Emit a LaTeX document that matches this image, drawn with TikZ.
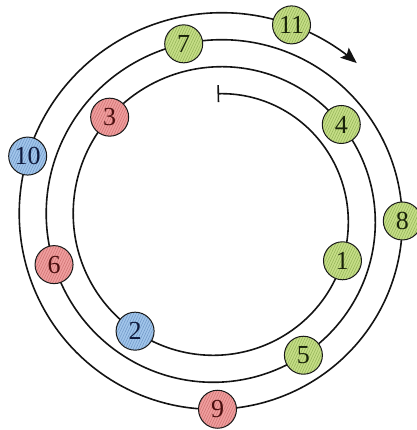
\documentclass[tikz,border=0pt]{standalone}
\usepackage{fontspec}
\setmainfont{Liberation Serif}
\usetikzlibrary{arrows.meta,patterns.meta}
\definecolor{gfill}{RGB}{198,222,135}
\definecolor{gline}{RGB}{145,178,85}
\definecolor{gtext}{RGB}{25,35,10}
\definecolor{rfill}{RGB}{240,158,158}
\definecolor{rline}{RGB}{205,112,112}
\definecolor{rtext}{RGB}{75,15,15}
\definecolor{bfill}{RGB}{162,198,235}
\definecolor{bline}{RGB}{110,150,198}
\definecolor{btext}{RGB}{15,25,60}
\tikzset{
  ball/.style={circle, draw=black!90, line width=1pt, minimum size=38pt, inner sep=0pt,
    font=\fontsize{26}{26}\selectfont},
  gball/.style={ball, preaction={fill=gfill}, pattern={Lines[angle=65,distance=2.4pt,line width=0.5pt]}, pattern color=gline, text=gtext},
  rball/.style={ball, preaction={fill=rfill}, pattern={Lines[angle=65,distance=2.4pt,line width=0.5pt]}, pattern color=rline, text=rtext},
  bball/.style={ball, preaction={fill=bfill}, pattern={Lines[angle=65,distance=2.4pt,line width=0.5pt]}, pattern color=bline, text=btext},
  spiralline/.style={line width=1.6pt, black!92}
}
\newcommand{\spr}[1]{({90-(#1)}:{124+0.075*(#1)})}
\begin{document}
\begin{tikzpicture}[x=1pt,y=1pt]
\useasboundingbox (0,0) rectangle (416,-430);
\begin{scope}[shift={(217.5,-217.75)}]
  \draw[spiralline, {Bar[width=17pt,line width=1.6pt]}-{Stealth[length=16pt,width=13pt,inset=3pt]}]
    plot[domain=0:1122, samples=500, variable=\s, smooth] ({90-\s}:{124+0.075*\s});
  \node[gball] (n1) at \spr{109} {1};
  \node[bball] (n2) at \spr{216} {2};
  \node[rball] (n3) at \spr{313} {3};
  \node[gball] (n4) at \spr{413} {4};
  \node[gball] (n5) at \spr{508} {5};
  \node[rball] (n6) at \spr{614} {6};
  \node[gball] (n7) at \spr{709} {7};
  \node[gball] (n8) at \spr{811} {8};
  \node[rball] (n9) at \spr{900} {9};
  \node[bball] (n10) at \spr{1008} {10};
  \node[gball] (n11) at \spr{1101} {11};
\end{scope}
\end{tikzpicture}
\end{document}
